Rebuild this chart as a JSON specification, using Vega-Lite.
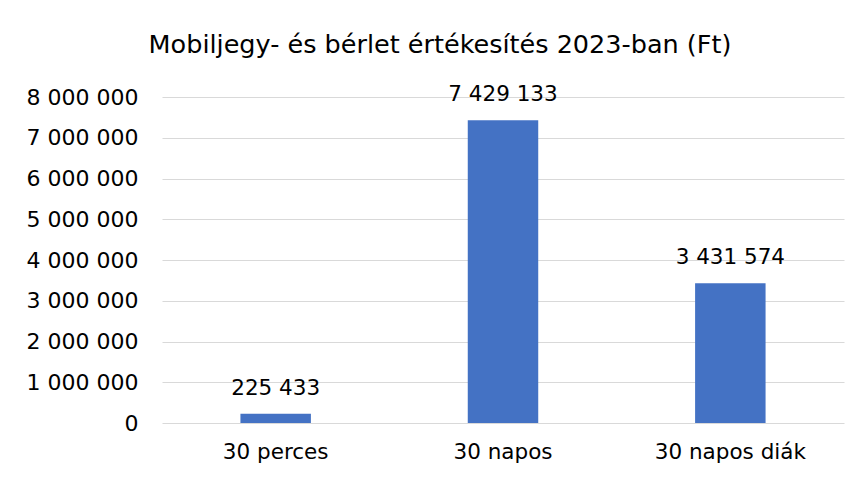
{
  "$schema": "https://vega.github.io/schema/vega-lite/v6.json",
  "width": 682,
  "height": 326,
  "autosize": {"type": "none"},
  "padding": {"left": 162, "top": 97, "right": 17, "bottom": 54},
  "background": "white",
  "title": {
    "text": "Mobiljegy- és bérlet értékesítés 2023-ban (Ft)",
    "anchor": "middle",
    "dx": -63,
    "offset": 26,
    "fontSize": 25.5,
    "font": "DejaVu Sans",
    "fontWeight": "normal",
    "color": "#000000"
  },
  "config": {
    "locale": {"number": {"decimal": ",", "thousands": " ", "grouping": [3], "currency": ["", " Ft"]}},
    "view": {"stroke": null},
    "font": "DejaVu Sans"
  },
  "data": {
    "values": [
      {"kategoria": "30 perces", "ertek": 225433},
      {"kategoria": "30 napos", "ertek": 7429133},
      {"kategoria": "30 napos diák", "ertek": 3431574}
    ]
  },
  "encoding": {
    "x": {
      "field": "kategoria",
      "type": "nominal",
      "sort": null,
      "scale": {"paddingInner": 0.69, "paddingOuter": 0.345},
      "axis": {
        "title": null,
        "labelAngle": 0,
        "labelFontSize": 21.5,
        "labelColor": "#000000",
        "labelFont": "DejaVu Sans",
        "ticks": false,
        "domain": false,
        "labelPadding": 18
      }
    },
    "y": {
      "field": "ertek",
      "type": "quantitative",
      "scale": {"domain": [0, 8000000]},
      "axis": {
        "title": null,
        "values": [0, 1000000, 2000000, 3000000, 4000000, 5000000, 6000000, 7000000, 8000000],
        "format": ",d",
        "labelFontSize": 22,
        "labelColor": "#000000",
        "labelFont": "DejaVu Sans",
        "ticks": false,
        "domain": false,
        "labelPadding": 24,
        "gridColor": "#d9d9d9",
        "gridWidth": 1
      }
    }
  },
  "layer": [
    {"mark": {"type": "bar", "color": "#4472C4"}},
    {
      "mark": {"type": "text", "baseline": "bottom", "dy": -14, "fontSize": 21.5, "color": "#000000", "font": "DejaVu Sans"},
      "encoding": {"text": {"field": "ertek", "type": "quantitative", "format": ",d"}}
    }
  ]
}
